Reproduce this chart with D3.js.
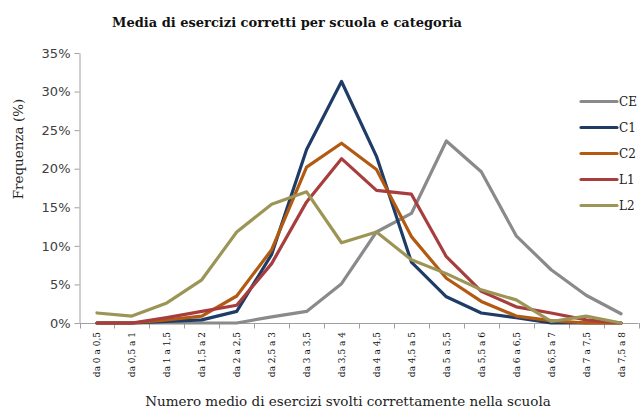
<!DOCTYPE html>
<html>
<head>
<meta charset="utf-8">
<script src="https://cdn.jsdelivr.net/npm/d3@7/dist/d3.min.js"></script>
<style>
  body { margin: 0; background: #fff; }
  svg { display: block; }
</style>
</head>
<body>
<svg id="chart" width="641" height="410"></svg>
<script>
const categories = ["da 0 a 0,5", "da 0,5 a 1", "da 1 a 1,5", "da 1,5 a 2", "da 2 a 2,5", "da 2,5 a 3", "da 3 a 3,5", "da 3,5 a 4", "da 4 a 4,5", "da 4,5 a 5", "da 5 a 5,5", "da 5,5 a 6", "da 6 a 6,5", "da 6,5 a 7", "da 7 a 7,5", "da 7,5 a 8"];
const seriesNames = ["CE", "C1", "C2", "L1", "L2"];
const CE = [0, 0, 0, 0, 0, 0.8, 1.5, 5.1, 11.8, 14.2, 23.6, 19.6, 11.3, 6.9, 3.6, 1.2];
const C1 = [0, 0, 0.2, 0.4, 1.5, 8.9, 22.5, 31.3, 21.6, 7.9, 3.4, 1.3, 0.7, 0, 0, 0];
const C2 = [0, 0, 0.4, 0.9, 3.5, 9.5, 20.2, 23.3, 19.9, 11.2, 5.8, 2.8, 0.9, 0.3, 0, 0];
const L1 = [0, 0, 0.7, 1.5, 2.3, 7.7, 15.7, 21.3, 17.2, 16.7, 8.6, 4.1, 2.1, 1.3, 0.4, 0];
const L2 = [1.3, 0.9, 2.6, 5.6, 11.8, 15.4, 17.0, 10.4, 11.8, 8.2, 6.4, 4.3, 3.0, 0.2, 0.9, 0];
const yTicks = [0, 5, 10, 15, 20, 25, 30, 35];
const colors = ["#8a8a8a", "#1f3c66", "#b25a12", "#a83d3d", "#9c9556"];
const title = "Media di esercizi corretti per scuola e categoria";
const yTitle = "Frequenza (%)";
const xTitle = "Numero medio di esercizi svolti correttamente nella scuola";

const series = [CE, C1, C2, L1, L2].map((vals, i) => ({ name: seriesNames[i], values: vals, color: colors[i] }));

const svg = d3.select("#chart");
const serif = "'DejaVu Serif', serif";
const sans = "'DejaVu Sans', Verdana, sans-serif";
const axisColor = "#a0a0a0";

const x = d3.scaleBand().domain(categories).range([79.5, 638.5]).padding(0);
const y = d3.scaleLinear().domain([0, 35]).range([323, 53]);

// Title
svg.append("text").attr("x", 287).attr("y", 27).attr("text-anchor", "middle")
  .style("font-family", serif).style("font-weight", "bold").style("font-size", "13px")
  .attr("fill", "#111").text(title);

// Y axis
const yAxis = svg.append("g").attr("transform", "translate(79.5,0)")
  .call(d3.axisLeft(y).tickValues(yTicks).tickSize(5).tickSizeOuter(0).tickFormat(d => d + "%"));
yAxis.select(".domain").attr("stroke", axisColor);
yAxis.selectAll(".tick line").attr("stroke", axisColor);
yAxis.selectAll(".tick text").attr("x", -9).style("font-family", sans).style("font-size", "13px").attr("fill", "#404040");

// X axis line
svg.append("line").attr("x1", x.range()[0]).attr("x2", x.range()[1])
  .attr("y1", y(0) + 0.5).attr("y2", y(0) + 0.5).attr("stroke", axisColor);
// X ticks at band boundaries
const bounds = categories.map(c => x(c)).concat([x.range()[1]]);
svg.append("g").selectAll("line").data(bounds).join("line")
  .attr("x1", d => Math.round(d) + 0.5).attr("x2", d => Math.round(d) + 0.5)
  .attr("y1", y(0)).attr("y2", y(0) + 5.5).attr("stroke", axisColor);
// X labels
svg.append("g").selectAll("text").data(categories).join("text")
  .attr("transform", d => `translate(${x(d) + x.bandwidth() / 2 + 3.5},332) rotate(-90)`)
  .attr("text-anchor", "end")
  .style("font-family", serif).style("font-size", "9px").attr("fill", "#111")
  .text(d => d);

// Axis titles
svg.append("text").attr("transform", "translate(23,149) rotate(-90)").attr("text-anchor", "middle")
  .style("font-family", serif).style("font-size", "13.5px").attr("fill", "#222").text(yTitle);
svg.append("text").attr("x", 348).attr("y", 406).attr("text-anchor", "middle")
  .style("font-family", serif).style("font-size", "13.5px").attr("fill", "#222").text(xTitle);

// Lines
const line = d3.line().x((d, i) => x(categories[i]) + x.bandwidth() / 2).y(d => y(d));
svg.append("g").selectAll("path").data(series).join("path")
  .attr("d", d => line(d.values)).attr("fill", "none")
  .attr("stroke", d => d.color).attr("stroke-width", 3.2)
  .attr("stroke-linejoin", "round").attr("stroke-linecap", "round");

// Legend
const leg = svg.append("g").selectAll("g").data(series).join("g")
  .attr("transform", (d, i) => `translate(581,${101.5 + i * 26})`);
leg.append("line").attr("x1", 0).attr("x2", 36).attr("stroke", d => d.color)
  .attr("stroke-width", 3.2).attr("stroke-linecap", "round");
leg.append("text").attr("x", 38).attr("y", 4.5)
  .style("font-family", serif).style("font-size", "12px").attr("fill", "#222").text(d => d.name);
</script>
</body>
</html>
